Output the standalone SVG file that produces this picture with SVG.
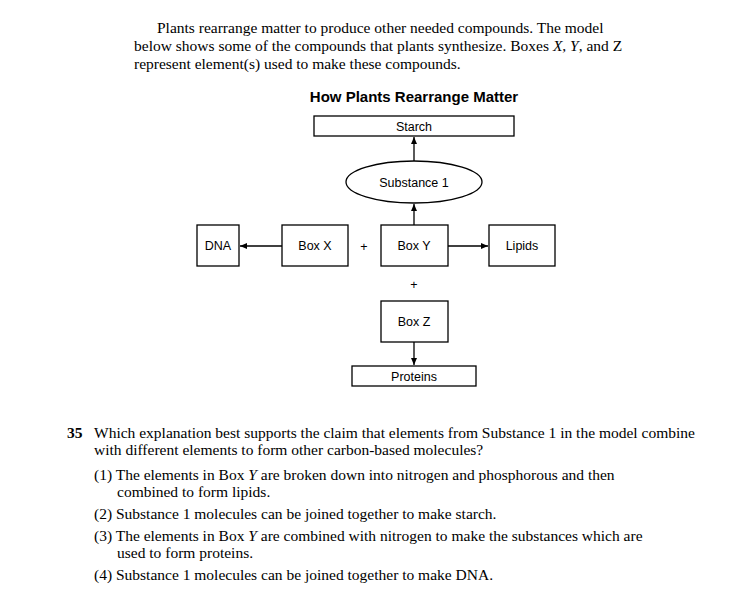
<svg xmlns="http://www.w3.org/2000/svg" width="756" height="600" viewBox="0 0 756 600">
<style>
.s{font-family:"Liberation Serif",serif;font-size:15.5px;fill:#000}
.n{font-family:"Liberation Sans",Arial,sans-serif;font-size:12.5px;fill:#000;text-anchor:middle}
.b{fill:#fff;stroke:#000;stroke-width:1.3}
.c{stroke:#000;stroke-width:1.3;fill:none;marker-end:url(#a)}
</style>
<defs><marker id="a" markerWidth="8" markerHeight="8" refX="7" refY="4" orient="auto" markerUnits="userSpaceOnUse"><path d="M0,1 L7,4 L0,7 Z" fill="#000"/></marker></defs>
<rect width="756" height="600" fill="#fff"/>
<text class="s" x="157" y="33">Plants rearrange matter to produce other needed compounds. The model</text>
<text class="s" x="134" y="51">below shows some of the compounds that plants synthesize. Boxes <tspan font-style="italic">X</tspan>, <tspan font-style="italic">Y</tspan>, and Z</text>
<text class="s" x="134" y="69">represent element(s) used to make these compounds.</text>
<text x="414" y="102" font-family="Liberation Sans,Arial,sans-serif" font-size="15" font-weight="bold" text-anchor="middle">How Plants Rearrange Matter</text>
<g id="connectors">
<line class="c" x1="414" y1="161" x2="414" y2="137"/>
<line class="c" x1="414" y1="225" x2="414" y2="204"/>
<line class="c" x1="282" y1="246" x2="240" y2="246"/>
<line class="c" x1="448" y1="246" x2="488" y2="246"/>
<line class="c" x1="414" y1="342" x2="414" y2="365"/>
</g>
<g id="starch"><rect class="b" x="314" y="116" width="200" height="20"/><text class="n" x="414" y="131">Starch</text></g>
<g id="substance1"><ellipse class="b" cx="414" cy="182" rx="68" ry="21"/><text class="n" x="414" y="187">Substance 1</text></g>
<g id="dna"><rect class="b" x="197" y="225" width="42" height="41"/><text class="n" x="218" y="250">DNA</text></g>
<g id="boxx"><rect class="b" x="282" y="225" width="66" height="41"/><text class="n" x="315" y="250">Box X</text></g>
<g id="boxy"><rect class="b" x="381" y="225" width="67" height="41"/><text class="n" x="414" y="250">Box Y</text></g>
<g id="lipids"><rect class="b" x="489" y="225" width="66" height="41"/><text class="n" x="522" y="250">Lipids</text></g>
<g id="boxz"><rect class="b" x="381" y="301" width="67" height="41"/><text class="n" x="414" y="326">Box Z</text></g>
<g id="proteins"><rect class="b" x="352" y="366" width="124" height="20"/><text class="n" x="414" y="381">Proteins</text></g>
<text class="n" x="364" y="251">+</text>
<text class="n" x="414" y="289">+</text>
<text class="s" x="67" y="438" font-weight="bold" font-size="16">35</text>
<text class="s" x="94" y="438">Which explanation best supports the claim that elements from Substance 1 in the model combine</text>
<text class="s" x="94" y="455">with different elements to form other carbon-based molecules?</text>
<text class="s" x="94" y="480">(1) The elements in Box <tspan font-style="italic">Y</tspan> are broken down into nitrogen and phosphorous and then</text>
<text class="s" x="117" y="497">combined to form lipids.</text>
<text class="s" x="94" y="519">(2) Substance 1 molecules can be joined together to make starch.</text>
<text class="s" x="94" y="541">(3) The elements in Box <tspan font-style="italic">Y</tspan> are combined with nitrogen to make the substances which are</text>
<text class="s" x="117" y="558">used to form proteins.</text>
<text class="s" x="94" y="580">(4) Substance 1 molecules can be joined together to make DNA.</text>
</svg>
